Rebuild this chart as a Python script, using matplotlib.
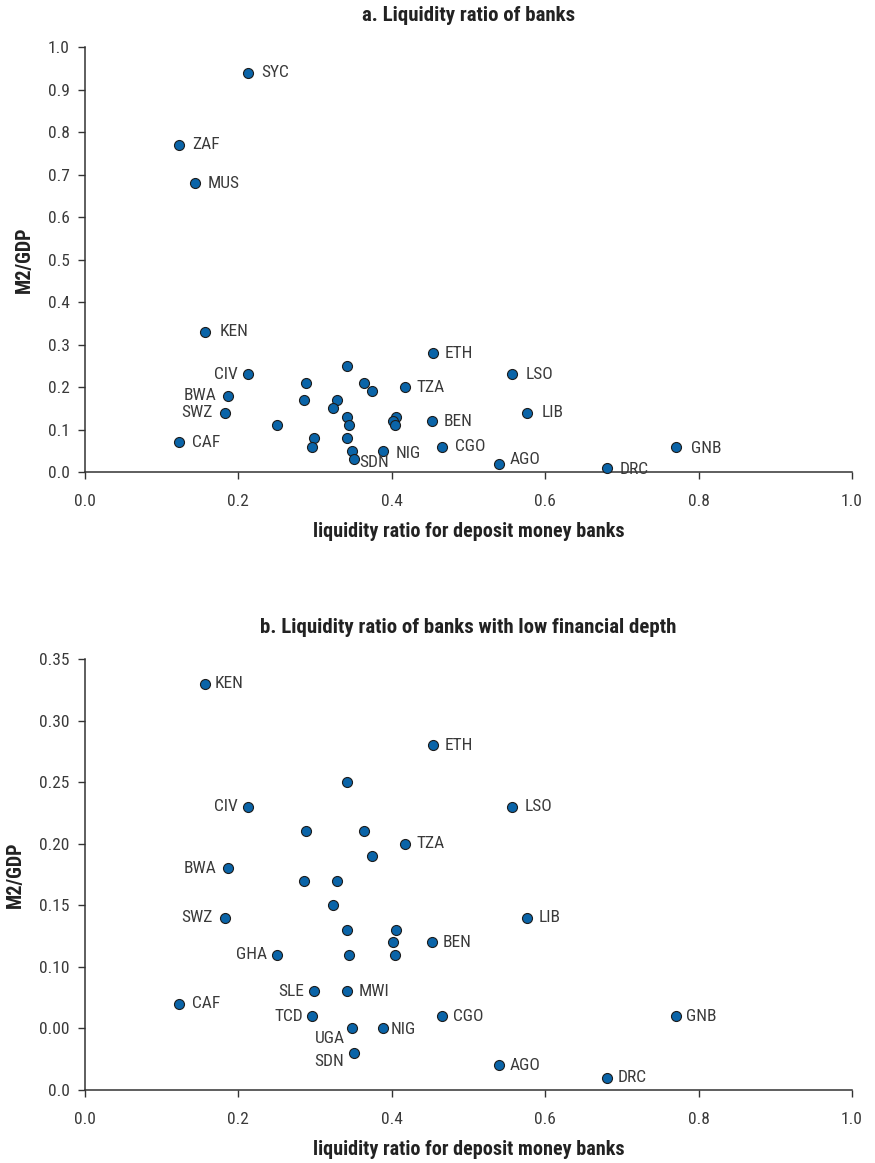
import matplotlib
matplotlib.use("Agg")
import matplotlib.pyplot as plt
import numpy as np

plt.rcParams['font.family'] = ['Roboto Condensed', 'Liberation Sans Narrow',
                               'Liberation Sans', 'DejaVu Sans']

# Country codes ("" = unlabelled point), liquidity ratio (x) and M2/GDP (y)
codes = ["SYC", "ZAF", "MUS", "KEN", "ETH", "", "CIV", "LSO", "", "",
         "TZA", "", "BWA", "", "", "", "SWZ", "LIB", "", "",
         "", "BEN", "GHA", "", "", "SLE", "MWI", "CAF", "TCD", "CGO",
         "GNB", "UGA", "NIG", "SDN", "AGO", "DRC"]
liq = [0.212, 0.122, 0.143, 0.156, 0.454, 0.341, 0.212, 0.557, 0.288, 0.364,
       0.417, 0.374, 0.186, 0.285, 0.328, 0.323, 0.182, 0.576, 0.342, 0.406,
       0.401, 0.452, 0.250, 0.344, 0.404, 0.298, 0.341, 0.123, 0.296, 0.466,
       0.771, 0.348, 0.388, 0.351, 0.540, 0.680]
m2gdp = [0.94, 0.77, 0.68, 0.33, 0.28, 0.25, 0.23, 0.23, 0.21, 0.21,
         0.20, 0.19, 0.18, 0.17, 0.17, 0.15, 0.14, 0.14, 0.13, 0.13,
         0.12, 0.12, 0.11, 0.11, 0.11, 0.08, 0.08, 0.07, 0.06, 0.06,
         0.06, 0.05, 0.05, 0.03, 0.02, 0.01]

# which labels appear in each panel, with (dx, dy) in pixels
labels_a = {"SYC": (14, 0), "ZAF": (14, 0), "MUS": (13, 0), "KEN": (15, 0),
            "CIV": (-10, 0), "BWA": (-11, 0), "SWZ": (-12, 0), "CAF": (13, 0),
            "ETH": (11, 0), "TZA": (12, 0), "BEN": (12, 0), "NIG": (13, -3),
            "CGO": (13, 0), "SDN": (5, -3), "LSO": (13, 0), "LIB": (15, 0),
            "AGO": (10, 4), "DRC": (13, -2), "GNB": (15, -2)}
labels_b = {"KEN": (10, 0), "ETH": (11, 0), "CIV": (-10, 0), "LSO": (12, 0),
            "TZA": (12, 0), "BWA": (-11, 0), "SWZ": (-12, 0), "LIB": (12, 0),
            "BEN": (11, 0), "GHA": (-10, 0), "SLE": (-9, 0), "MWI": (12, 0),
            "CAF": (13, 0), "TCD": (-9, 0), "CGO": (11, 0), "GNB": (10, 0),
            "UGA": (-7, -10), "NIG": (8, -1), "SDN": (-10, -8), "AGO": (10, 0),
            "DRC": (11, 0)}

xticks = [0.0, 0.2, 0.4, 0.6, 0.8, 1.0]
yticks_a = [0.0, 0.1, 0.2, 0.3, 0.4, 0.5, 0.6, 0.7, 0.8, 0.9, 1.0]
yticks_b = [0.0, 0.05, 0.10, 0.15, 0.20, 0.25, 0.30, 0.35]
ytick_labels_b = ["0.0", "0.00", "0.10", "0.15", "0.20", "0.25", "0.30", "0.35"]

DOT = "#0a64a8"
TXT = "#3a3a3a"

fig = plt.figure(figsize=(8.75, 11.63), dpi=100)
ax_a = fig.add_axes([0.0971, 0.594, 0.8766, 0.3655])
ax_b = fig.add_axes([0.0971, 0.0628, 0.8766, 0.3705])


def draw(ax, xs, ys, cs, labels, title, ylim):
    ax.scatter(xs, ys, s=52, color=DOT, edgecolor="#1c1c1c", linewidth=0.8,
               zorder=3, clip_on=False)
    for c, x, y in zip(cs, xs, ys):
        if c in labels:
            dx, dy = labels[c]
            ax.annotate(c, (x, y), xytext=(dx, dy), textcoords="offset pixels",
                        ha="left" if dx > 0 else "right", va="center",
                        fontsize=12.5, color=TXT)
    ax.set_xlim(0, 1.0)
    ax.set_ylim(*ylim)
    ax.set_xticks(xticks)
    ax.set_xticklabels([f"{t:.1f}" for t in xticks])
    for s in ["top", "right"]:
        ax.spines[s].set_visible(False)
    for s in ["left", "bottom"]:
        ax.spines[s].set_color("#333333")
        ax.spines[s].set_linewidth(1.1)
    ax.tick_params(direction="out", length=5, width=1.0, color="#333333",
                   labelsize=12.5, labelcolor=TXT, pad=6)
    ax.tick_params(axis="x", pad=11)
    ax.set_title(title, fontsize=15, fontweight="bold", color="#222222", pad=19)
    ax.set_xlabel("liquidity ratio for deposit money banks", fontsize=14.5,
                  fontweight="bold", color="#222222", labelpad=9)
    ax.set_ylabel("M2/GDP", fontsize=14.5, fontweight="bold", color="#222222",
                  labelpad=10)


draw(ax_a, liq, m2gdp, codes, labels_a, "a. Liquidity ratio of banks", (0, 1.0))
ax_a.set_yticks(yticks_a)
ax_a.set_yticklabels([f"{t:.1f}" for t in yticks_a])

# panel b: countries with low financial depth (M2/GDP below 0.35)
low = [i for i, v in enumerate(m2gdp) if v < 0.35]
draw(ax_b, [liq[i] for i in low], [m2gdp[i] for i in low], [codes[i] for i in low],
     labels_b, "b. Liquidity ratio of banks with low financial depth", (0, 0.35))
ax_b.set_yticks(yticks_b)
ax_b.set_yticklabels(ytick_labels_b)

fig.savefig("out.png", dpi=100, facecolor="white")
